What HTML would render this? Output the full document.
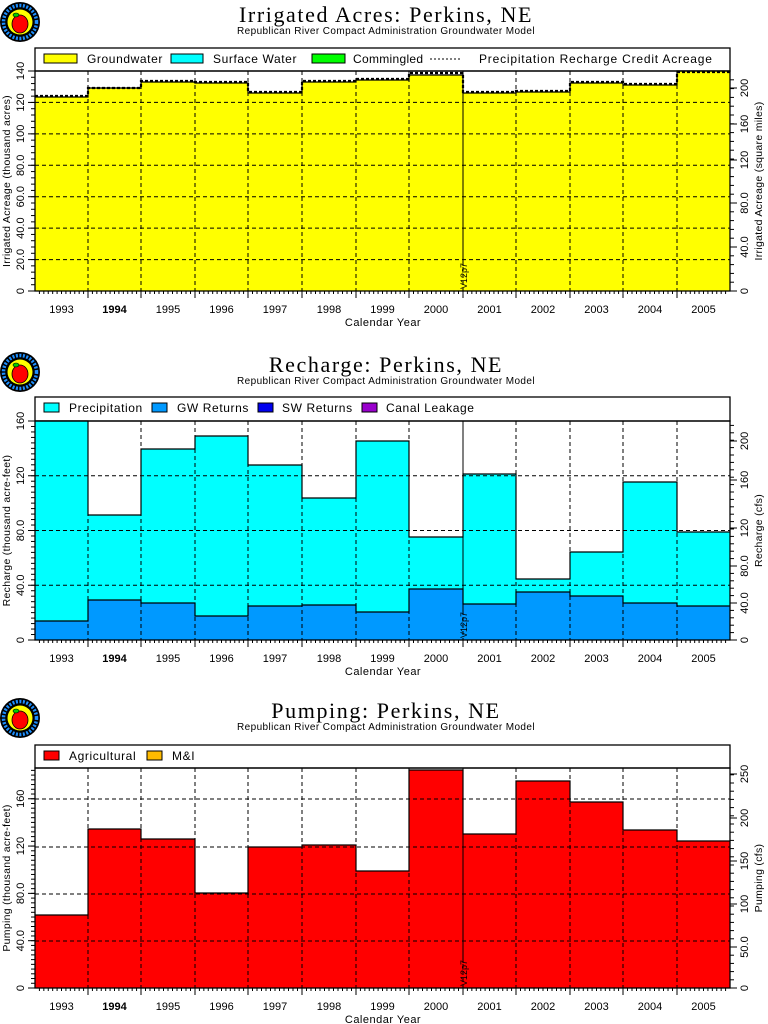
<!DOCTYPE html>
<html><head><meta charset="utf-8"><style>
html,body{margin:0;padding:0;background:#fff;width:768px;height:1024px;overflow:hidden}
svg text{font-family:"Liberation Sans",sans-serif}
</style></head><body>
<svg id="s" width="768" height="1024" xmlns="http://www.w3.org/2000/svg"></svg>
<script>
var s=document.getElementById('s'),h='';
var X=[35,88,141,195,248,302,356,409,463,516,570,623,677,730];
var yrs=[1993,1994,1995,1996,1997,1998,1999,2000,2001,2002,2003,2004,2005];
function logo(cy){return '<circle cx="20" cy="'+cy+'" r="20" fill="#000"/><circle cx="20" cy="'+cy+'" r="16.5" fill="none" stroke="#1e90ff" stroke-width="3.5" stroke-dasharray="2 1.5"/><circle cx="20" cy="'+cy+'" r="12.5" fill="#ff0"/><ellipse cx="20" cy="'+(cy+2)+'" rx="8" ry="9" fill="#f00" stroke="#000" stroke-width="0.8"/><ellipse cx="16" cy="'+(cy-7)+'" rx="3" ry="2" fill="#0c0" stroke="#000" stroke-width="0.6"/>';}
function panel(o){
 var t=o.top,b=o.bot,lt=o.legTop;
 h+=logo(o.logoY);
 h+='<text x="386" y="'+(o.logoY)+'" text-anchor="middle" style="font-family:\'Liberation Serif\',serif;font-size:22px;letter-spacing:1.6px">'+o.title+'</text>';
 h+='<text x="386" y="'+(o.logoY+12)+'" text-anchor="middle" font-size="10" letter-spacing="0.4">Republican River Compact Administration Groundwater Model</text>';
 h+='<rect x="35" y="'+lt+'" width="695" height="'+(t-lt)+'" fill="#fff" stroke="#000" stroke-width="1.3"/>';
 o.leg.forEach(function(l){
  if(l[0]=='dash'){h+='<line x1="'+l[2]+'" y1="'+(lt+11)+'" x2="'+(l[2]+l[3])+'" y2="'+(lt+11)+'" stroke="#000" stroke-dasharray="2 2"/>';}
  else h+='<rect x="'+l[2]+'" y="'+(lt+6)+'" width="'+l[3]+'" height="9" fill="'+l[0]+'" stroke="#000"/>';
  h+='<text x="'+l[4]+'" y="'+(lt+15)+'" font-size="12" letter-spacing="'+(l[5]||0.6)+'">'+l[1]+'</text>';});
 o.series.forEach(function(se){for(var i=0;i<13;i++){var y=se.v[i];h+='<rect x="'+X[i]+'" y="'+y+'" width="'+(X[i+1]-X[i])+'" height="'+(b-y)+'" fill="'+se.c+'"/>';}
  var p='M'+X[0]+' '+se.v[0];for(var i=0;i<13;i++){p+=' L'+X[i+1]+' '+se.v[i];if(i<12)p+=' L'+X[i+1]+' '+se.v[i+1];}
  h+='<path d="'+p+'" fill="none" stroke="#000" stroke-width="1.2"/>';
 });
 if(o.dash){var p='M'+X[0]+' '+o.dash[0];for(var i=0;i<13;i++){p+=' L'+X[i+1]+' '+o.dash[i];if(i<12)p+=' L'+X[i+1]+' '+o.dash[i+1];}
  h+='<path d="'+p+'" fill="none" stroke="#000" stroke-width="2.2" stroke-dasharray="3 2"/>';}
 o.grid.forEach(function(g){h+='<line x1="35" y1="'+g+'" x2="730" y2="'+g+'" stroke="#000" stroke-dasharray="4 3"/>';});
 for(var i=1;i<13;i++)h+='<line x1="'+X[i]+'" y1="'+t+'" x2="'+X[i]+'" y2="'+b+'" stroke="#000" stroke-dasharray="4 3"/>';
 h+='<line x1="463" y1="'+t+'" x2="463" y2="'+(b-o.vline)+'" stroke="#000"/>';
 h+='<text transform="translate(467,'+(b-2)+') rotate(-90)" font-size="9">V12p7</text>';
 h+='<rect x="35" y="'+t+'" width="695" height="'+(b-t)+'" fill="none" stroke="#000" stroke-width="1.3"/>';
 for(var i=0;i<13;i++){for(var k=1;k<12;k++){var x=X[i]+(X[i+1]-X[i])*k/12;h+='<line x1="'+x+'" y1="'+b+'" x2="'+x+'" y2="'+(b+3)+'" stroke="#000"/>';}
  if(i>0)h+='<line x1="'+X[i]+'" y1="'+b+'" x2="'+X[i]+'" y2="'+(b+7)+'" stroke="#000"/>';
  h+='<text x="'+((X[i]+X[i+1])/2)+'" y="'+(b+22)+'" text-anchor="middle" font-size="11" font-weight="'+(yrs[i]==1994?'bold':'normal')+'">'+yrs[i]+'</text>';}
 h+='<text x="383" y="'+(b+35)+'" text-anchor="middle" font-size="11" letter-spacing="0.5">Calendar Year</text>';
 var L=o.left;for(var k=0;k<L.lab.length;k++){var y=b-(b-t)*L.v[k]/L.max;h+='<line x1="28" y1="'+y+'" x2="35" y2="'+y+'" stroke="#000"/><text transform="translate(24,'+y+') rotate(-90)" text-anchor="middle" font-size="11">'+L.lab[k]+'</text>';}
 for(var v=0;v<=L.max;v+=L.minor){var y=b-(b-t)*v/L.max;h+='<line x1="31" y1="'+y+'" x2="35" y2="'+y+'" stroke="#000"/>';}
 h+='<text transform="translate(10,'+((t+b)/2)+') rotate(-90)" text-anchor="middle" font-size="10.5" letter-spacing="0.3">'+L.title+'</text>';
 var R=o.right;R.y.forEach(function(y,k){h+='<line x1="730" y1="'+y+'" x2="737" y2="'+y+'" stroke="#000"/><text transform="translate(748,'+y+') rotate(-90)" text-anchor="middle" font-size="11">'+R.lab[k]+'</text>';});
 var st=(R.y[0]-R.y[1])/R.n;for(var y=R.y[0];y>t;y-=st)h+='<line x1="730" y1="'+y+'" x2="734" y2="'+y+'" stroke="#000"/>';
 h+='<text transform="translate(762,'+((t+b)/2)+') rotate(-90)" text-anchor="middle" font-size="10.5" letter-spacing="0.3">'+R.title+'</text>';
}
panel({title:'Irrigated Acres:  Perkins,  NE',logoY:22,legTop:48,top:71,bot:291,vline:25,
 leg:[['#ff0','Groundwater',44,33,87],['#0ff','Surface Water',171,32,213],['#0f0','Commingled',312,33,353,0.3],['dash','Precipitation Recharge Credit Acreage',430,30,479,0.8]],
 series:[{c:'#ff0',v:[97,88,82,83,93,82,80,75,93,92,83,85,71]}],
 dash:[96,88,81,82,92,81,79,73,92,91,82,84,72],
 grid:[259.6,228.1,196.7,165.3,133.9,102.4],
 left:{max:140,v:[0,20,40,60,80,100,120,140],lab:['0','20.0','40.0','60.0','80.0','100','120','140'],minor:4,title:'Irrigated Acreage (thousand acres)'},
 right:{y:[291,247,203,160,124,88],lab:['0','40.0','80.0','120','160','200'],n:5,title:'Irrigated Acreage (square miles)'}});
panel({title:'Recharge:  Perkins,  NE',logoY:372,legTop:397,top:421,bot:640,vline:25,
 leg:[['#0ff','Precipitation',44,15,69],['#09f','GW Returns',152,15,177],['#00e','SW Returns',258,15,282],['#90c','Canal Leakage',362,15,386]],
 series:[{c:'#0ff',v:[421,515,449,436,465,498,441,537,474,579,552,482,532]},{c:'#09f',v:[621,600,603,616,606,605,612,589,604,592,596,603,606]}],
 grid:[585.3,530.5,475.8],
 left:{max:160,v:[0,40,80,120,160],lab:['0','40.0','80.0','120','160'],minor:4,title:'Recharge (thousand acre-feet)'},
 right:{y:[640,603,566,528,480,441],lab:['0','40.0','80.0','120','160','200'],n:5,title:'Recharge (cfs)'}});
panel({title:'Pumping:  Perkins,  NE',logoY:718,legTop:745,top:768,bot:988,vline:25,
 leg:[['#f00','Agricultural',44,15,69],['#fb0','M&amp;I',147,15,172]],
 series:[{c:'#f00',v:[915,829,839,893,847,845,871,770,834,781,802,830,841]}],
 grid:[941,894,847,799],
 left:{max:186,v:[0,40,80,120,160],lab:['0','40.0','80.0','120','160'],minor:4,title:'Pumping (thousand acre-feet)'},
 right:{y:[988,947,904,861,818,774],lab:['0','50.0','100','150','200','250'],n:5,title:'Pumping (cfs)'}});
s.innerHTML=h;
</script>
</body></html>
